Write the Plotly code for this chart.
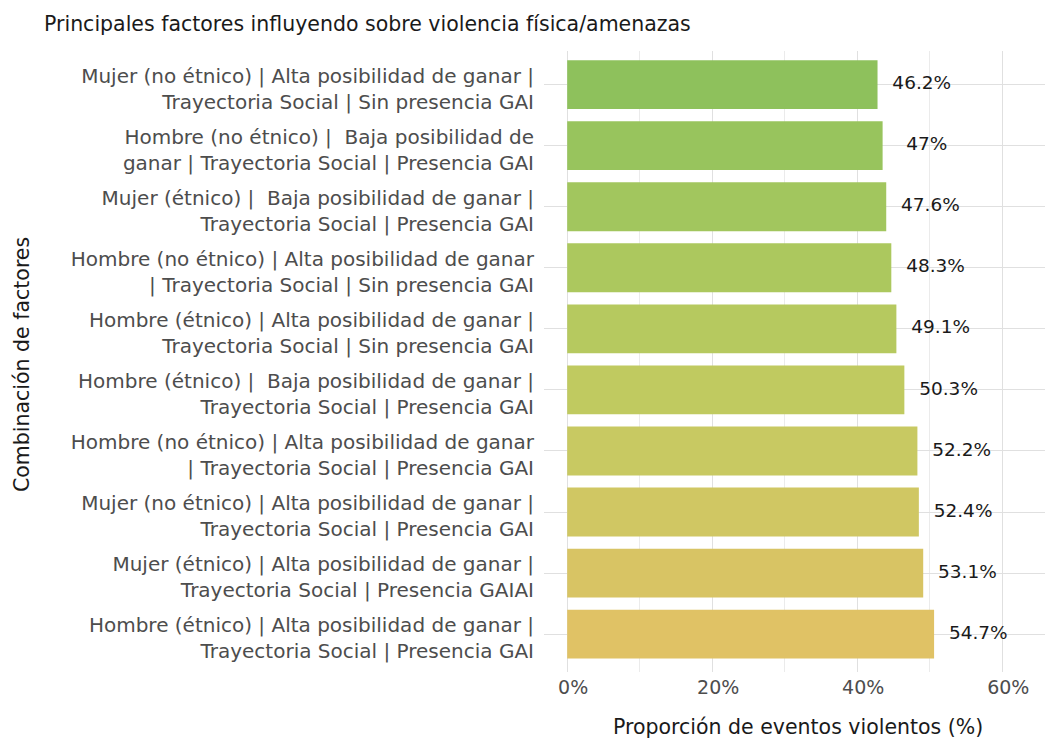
import plotly.graph_objects as go

# Data (top to bottom as in the picture)
categories = [
    "Mujer (no étnico) | Alta posibilidad de ganar |<br>Trayectoria Social | Sin presencia GAI",
    "Hombre (no étnico) |  Baja posibilidad de<br>ganar | Trayectoria Social | Presencia GAI",
    "Mujer (étnico) |  Baja posibilidad de ganar |<br>Trayectoria Social | Presencia GAI",
    "Hombre (no étnico) | Alta posibilidad de ganar<br>| Trayectoria Social | Sin presencia GAI",
    "Hombre (étnico) | Alta posibilidad de ganar |<br>Trayectoria Social | Sin presencia GAI",
    "Hombre (étnico) |  Baja posibilidad de ganar |<br>Trayectoria Social | Presencia GAI",
    "Hombre (no étnico) | Alta posibilidad de ganar<br>| Trayectoria Social | Presencia GAI",
    "Mujer (no étnico) | Alta posibilidad de ganar |<br>Trayectoria Social | Presencia GAI",
    "Mujer (étnico) | Alta posibilidad de ganar |<br>Trayectoria Social | Presencia GAIAI",
    "Hombre (étnico) | Alta posibilidad de ganar |<br>Trayectoria Social | Presencia GAI",
]
# bar lengths as drawn (axis units, %)
bar_values = [42.8, 43.5, 44.0, 44.7, 45.4, 46.5, 48.3, 48.5, 49.1, 50.6]
# printed labels
label_texts = ["46.2%", "47%", "47.6%", "48.3%", "49.1%", "50.3%", "52.2%", "52.4%", "53.1%", "54.7%"]
bar_colors = ["#8EC15C", "#98C45D", "#A2C65E", "#ACC85E", "#B6C95F",
              "#C0CA60", "#C8C962", "#D0C763", "#D8C464", "#E0C265"]
x_ticks = [0, 20, 40, 60]
x_ticklabels = ["0%", "20%", "40%", "60%"]

FONT = "DejaVu Sans"
label_offset = 6.1

# page body has an 8px margin; compensate so the picture lands where intended
OFF = 8
FW, FH = 1053 - OFF, 738 - OFF
L, T, W, H = 544 - OFF, 51 - OFF, 509, 621


def px(xp):
    return (xp - OFF - L) / W


def py(yp):
    return (T + H - (yp - OFF)) / H


fig = go.Figure()
fig.add_trace(go.Bar(
    x=bar_values, y=categories, orientation="h",
    marker=dict(color=bar_colors, line=dict(width=0)),
    width=0.8, hoverinfo="skip", showlegend=False,
))
fig.add_trace(go.Scatter(
    x=[v + label_offset for v in bar_values], y=categories,
    mode="text", text=label_texts, textposition="middle center",
    textfont=dict(family=FONT, size=18.5, color="#1A1A1A"),
    hoverinfo="skip", showlegend=False, cliponaxis=False,
))

fig.update_layout(
    width=FW, height=FH,
    margin=dict(l=L, r=max(FW - L - W, 0), t=T, b=FH - T - H),
    paper_bgcolor="white", plot_bgcolor="white",
    font=dict(family=FONT),
    xaxis=dict(
        range=[-3.2, 67.0], automargin=False,
        tickvals=x_ticks, ticktext=x_ticklabels,
        showgrid=True, gridcolor="#E0E0E0", gridwidth=1.2,
        minor=dict(dtick=10, tick0=0, showgrid=True, gridcolor="#EBEBEB", gridwidth=0.8),
        zeroline=False, showline=False, ticks="",
        tickfont=dict(family=FONT, size=19, color="#4D4D4D"),
        ticklabelstandoff=2, ticklabelshift=6,
    ),
    yaxis=dict(
        categoryorder="array", categoryarray=categories[::-1],
        range=[-0.62, 9.55], automargin=False,
        showgrid=True, gridcolor="#E0E0E0", gridwidth=1.2,
        zeroline=False, showline=False, ticks="",
        tickfont=dict(family=FONT, size=20, color="#4D4D4D"),
        ticklabelstandoff=9, ticklabelshift=4,
    ),
    annotations=[
        dict(text="Principales factores influyendo sobre violencia física/amenazas",
             xref="paper", yref="paper", x=px(42), y=py(24),
             xanchor="left", yanchor="middle",
             showarrow=False, font=dict(family=FONT, size=20.5, color="#1A1A1A")),
        dict(text="Proporción de eventos violentos (%)",
             xref="paper", yref="paper", x=px(798), y=py(727),
             xanchor="center", yanchor="middle",
             showarrow=False, font=dict(family=FONT, size=20.5, color="#1A1A1A")),
        dict(text="Combinación de factores",
             xref="paper", yref="paper", x=px(22), y=py(365),
             xanchor="center", yanchor="middle",
             textangle=-90, showarrow=False, font=dict(family=FONT, size=20.5, color="#1A1A1A")),
    ],
)

fig.write_html("out.html")
